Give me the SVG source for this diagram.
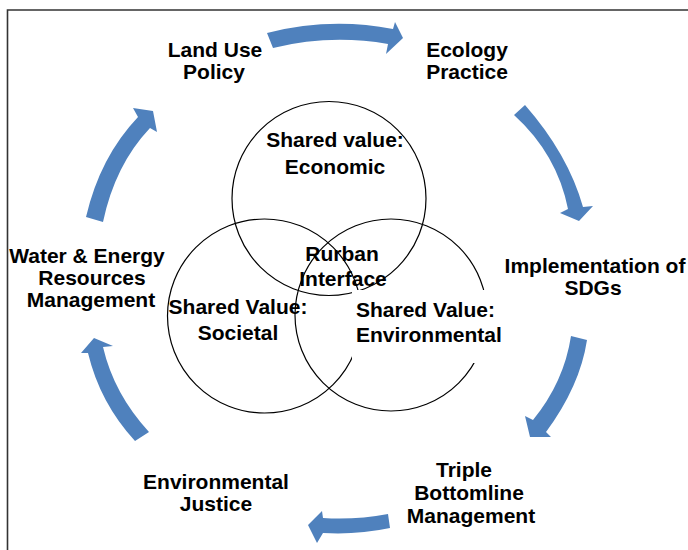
<svg xmlns="http://www.w3.org/2000/svg" width="688" height="550" viewBox="0 0 688 550">
<style>
text{font-family:"Liberation Sans",Arial,sans-serif;font-weight:bold;font-size:21px;fill:#000}
.c{text-anchor:middle}
.ring{fill:none;stroke:#000;stroke-width:1.2}
.arr{fill:#4F81BD;stroke:none}
.frame{stroke:#333;stroke-width:1.6;fill:none}
</style>
<rect width="688" height="550" fill="#fff"/>
<path class="frame" d="M7.5,550 L7.5,10 L688,10"/>
<g id="connectors">
<path class="arr" d="M267,33 Q330,17 393,29 L395,22 L403,38 L386,54 L388,44 Q330,34 273,48 Z"/>
<path class="arr" d="M514,115 L525,105 Q568,154 583,207 L593,206 L579,221 L560,213 L568,209 Q557,154 514,115 Z"/>
<path class="arr" d="M571,336 L587,340 Q580,386 546,432 L551,437 L530,437 L525,416 L533,420 Q564,382 571,336 Z"/>
<path class="arr" d="M388,514 Q356,520 323,518 L322,511 L308,525 L317,543 L323,533 Q357,535 390,528 Z"/>
<path class="arr" d="M149,432 L135,441 Q100,403 88,353 L81,353 L94,338 L113,346 L103,347 Q114,394 149,432 Z"/>
<path class="arr" d="M86,217 Q100,157 138,117 L133,108 L153,111 L157,132 L150,128 Q115,165 103,222 Z"/>
</g>
<g id="circles">
<circle class="ring" cx="329" cy="198.5" r="97"/>
<circle class="ring" cx="264.5" cy="316" r="97"/>
<circle class="ring" cx="391" cy="315" r="96"/>
</g>
<g id="economic"><text class="c" x="335" y="147">Shared value:</text><text class="c" x="335" y="174">Economic</text></g>
<g id="rurban"><text class="c" x="342" y="261">Rurban</text><text class="c" x="343" y="286">Interface</text></g>
<g id="societal"><text class="c" x="238" y="314">Shared Value:</text><text class="c" x="238" y="340">Societal</text></g>
<g id="environmental"><rect x="352" y="290" width="154" height="73" fill="#fff"/><text x="356" y="317">Shared Value:</text><text x="356" y="342">Environmental</text></g>
<g id="landuse"><text class="c" x="215" y="57">Land Use</text><text class="c" x="214" y="79">Policy</text></g>
<g id="ecology"><text class="c" x="467" y="57">Ecology</text><text class="c" x="467" y="79">Practice</text></g>
<g id="sdgs"><text class="c" x="595" y="273">Implementation of</text><text class="c" x="593" y="295">SDGs</text></g>
<g id="tbl"><text class="c" x="464" y="477">Triple</text><text class="c" x="469" y="500">Bottomline</text><text class="c" x="471" y="523">Management</text></g>
<g id="justice"><text class="c" x="216" y="489">Environmental</text><text class="c" x="216" y="511">Justice</text></g>
<g id="water"><text class="c" x="87" y="263">Water &amp; Energy</text><text class="c" x="92" y="285">Resources</text><text class="c" x="91" y="307">Management</text></g>
</svg>
